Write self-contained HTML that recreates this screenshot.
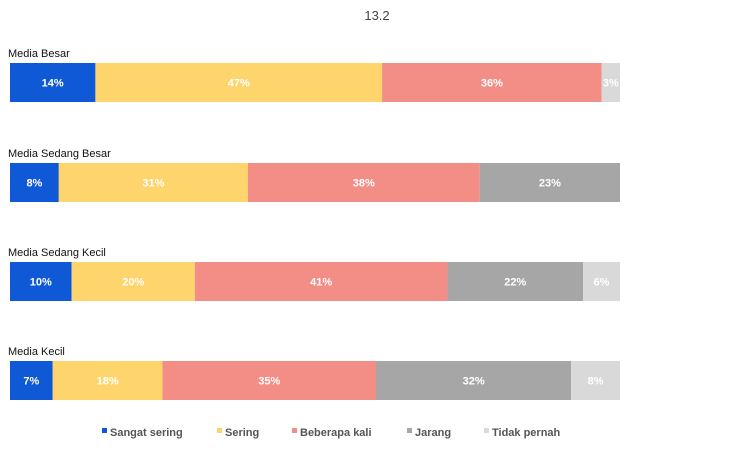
<!DOCTYPE html>
<html><head><meta charset="utf-8"><style>
body{margin:0;background:#fff;font-family:"Liberation Sans",Arial,sans-serif}
svg text{font-family:"Liberation Sans",Arial,sans-serif}
</style></head><body>
<svg id="chart" width="754" height="466" xmlns="http://www.w3.org/2000/svg">
<text x="377" y="20" text-anchor="middle" font-size="13" fill="#444">13.2</text>
<g id="bars"></g>
<g id="legend"></g>
</svg>
<script>
const categories = ["Media Besar","Media Sedang Besar","Media Sedang Kecil","Media Kecil"];
const seriesNames = ["Sangat sering","Sering","Beberapa kali","Jarang","Tidak pernah"];
const sangatSering = [14,8,10,7];
const sering = [47,31,20,18];
const beberapaKali = [36,38,41,35];
const jarang = [0,23,22,32];
const tidakPernah = [3,0,6,8];
const series = [sangatSering, sering, beberapaKali, jarang, tidakPernah];
const colors = ["#0f58d6","#fdd56c","#f38e86","#a6a6a6","#d9d9d9"];
const ns="http://www.w3.org/2000/svg";
const x0=10, x1=620, barH=39, rowTop=[63,163,262,361];
const g=document.getElementById('bars');
function xScale(v,total){return (v/total)*(x1-x0);}
categories.forEach((c,i)=>{
  const y=rowTop[i];
  const lab=document.createElementNS(ns,'text');
  
  
  lab.setAttribute('x',8);lab.setAttribute('y',y-6);lab.setAttribute('font-size','11');lab.setAttribute('fill','#111');
  lab.textContent=c;g.appendChild(lab);
  const total=series.reduce((s,a)=>s+a[i],0);
  let x=x0;
  series.forEach((s,k)=>{
    const v=s[i]; if(!v) return;
    const w=xScale(v,total);
    const r=document.createElementNS(ns,'rect');
    
    
    r.setAttribute('x',x);r.setAttribute('y',y);r.setAttribute('width',w);r.setAttribute('height',barH);r.setAttribute('fill',colors[k]);
    g.appendChild(r);
    const t=document.createElementNS(ns,'text');
    
    
    t.setAttribute('x',x+w/2);t.setAttribute('y',y+barH/2+4);t.setAttribute('text-anchor','middle');
    t.setAttribute('font-size','11');t.setAttribute('font-weight','bold');t.setAttribute('fill','#fff');
    t.textContent=v+'%';g.appendChild(t);
    x+=w;
  });
});
const lg=document.getElementById('legend');
const lx=[102,217,292,407,484];
seriesNames.forEach((n,k)=>{
  const r=document.createElementNS(ns,'rect');
  
  
  r.setAttribute('x',lx[k]);r.setAttribute('y',428);r.setAttribute('width',5);r.setAttribute('height',5);r.setAttribute('fill',colors[k]);
  lg.appendChild(r);
  const t=document.createElementNS(ns,'text');
  
  
  t.setAttribute('x',lx[k]+8);t.setAttribute('y',436);t.setAttribute('font-size','11');t.setAttribute('font-weight','bold');t.setAttribute('fill','#555');
  t.textContent=n;lg.appendChild(t);
});
</script>
</body></html>
